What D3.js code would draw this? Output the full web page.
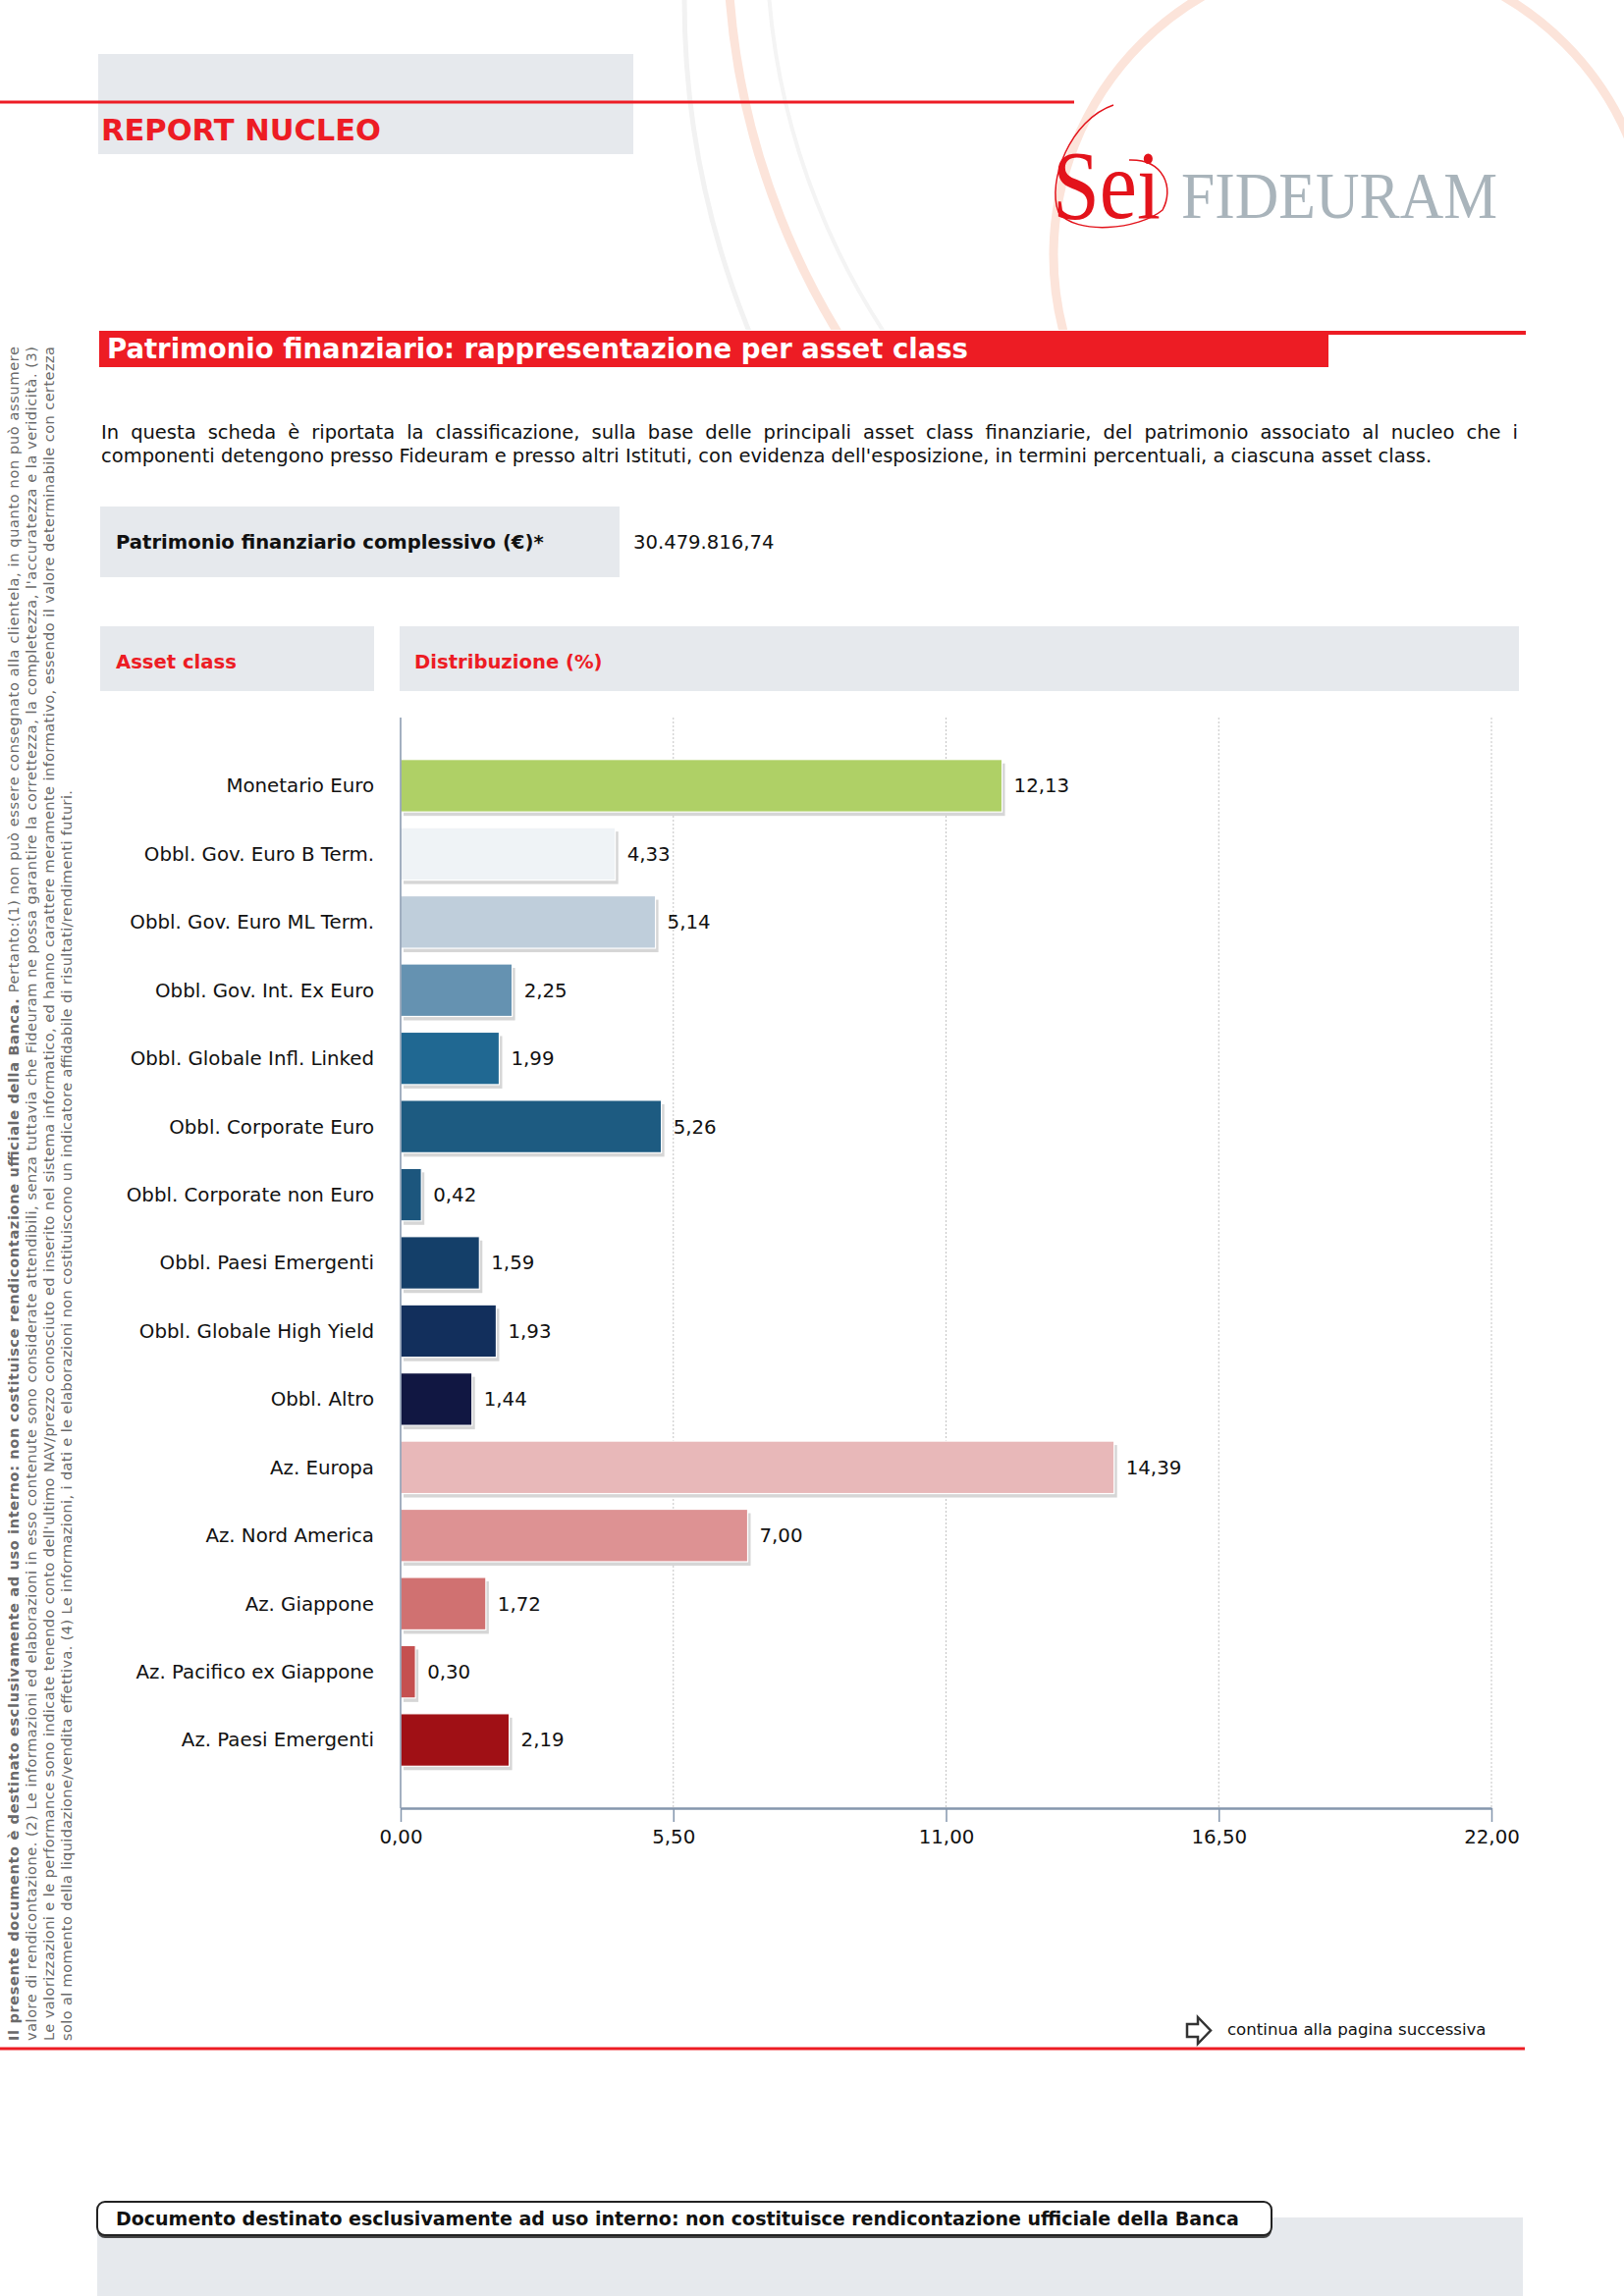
<!DOCTYPE html>
<html lang="it">
<head>
<meta charset="UTF-8">
<title>Patrimonio finanziario: rappresentazione per asset class</title>
<script src="https://d3js.org/d3.v7.min.js"></script>
<style>
    body { margin: 0; background: #fff; }
    svg { display: block; font-family: "DejaVu Sans", Verdana, sans-serif; }
</style>
</head>
<body>
<svg id="page" width="1654" height="2339"></svg>
<script>
    // dati
    const categories = [
        "Monetario Euro", "Obbl. Gov. Euro B Term.", "Obbl. Gov. Euro ML Term.",
        "Obbl. Gov. Int. Ex Euro", "Obbl. Globale Infl. Linked", "Obbl. Corporate Euro",
        "Obbl. Corporate non Euro", "Obbl. Paesi Emergenti", "Obbl. Globale High Yield",
        "Obbl. Altro", "Az. Europa", "Az. Nord America", "Az. Giappone",
        "Az. Pacifico ex Giappone", "Az. Paesi Emergenti"
    ];
    const values = [12.13, 4.33, 5.14, 2.25, 1.99, 5.26, 0.42, 1.59, 1.93, 1.44, 14.39, 7.00, 1.72, 0.30, 2.19];
    const barColors = [
        "#afd066", "#eff3f6", "#bfcedb", "#6592b1", "#206892", "#1d5b81", "#1c567d",
        "#143f69", "#122f5c", "#111742", "#e8b8b9", "#dd9293", "#d07171", "#c55050", "#a01015"
    ];
    const xTicks = [0, 5.5, 11, 16.5, 22];
    const totalValue = 30479816.74;

    const noteLines = [
        [["Il presente documento è destinato esclusivamente ad uso interno: non costituisce rendicontazione ufficiale della Banca.", true],
         [" Pertanto:(1) non può essere consegnato alla clientela, in quanto non può assumere", false]],
        [["valore di rendicontazione. (2) Le informazioni ed elaborazioni in esso contenute sono considerate attendibili, senza tuttavia che Fideuram ne possa garantire la correttezza, la completezza, l'accuratezza e la veridicità. (3)", false]],
        [["Le valorizzazioni e le performance sono indicate tenendo conto dell'ultimo NAV/prezzo conosciuto ed inserito nel sistema informatico, ed hanno carattere meramente informativo, essendo il valore determinabile con certezza", false]],
        [["solo al momento della liquidazione/vendita effettiva. (4) Le informazioni, i dati e le elaborazioni non costituiscono un indicatore affidabile di risultati/rendimenti futuri.", false]]
    ];
    const introLines = [
        "In questa scheda è riportata la classificazione, sulla base delle principali asset class finanziarie, del patrimonio associato al nucleo che i",
        "componenti detengono presso Fideuram e presso altri Istituti, con evidenza dell'esposizione, in termini percentuali, a ciascuna asset class."
    ];

    const RED = "#ed1c24";
    const GREY = "#e6e9ed";
    const FS = 19.8; // dimensione testo del grafico

    const locale = d3.formatLocale({ decimal: ",", thousands: ".", grouping: [3], currency: ["€", ""] });
    const fmt2 = locale.format(".2f");
    const fmtTotal = locale.format(",.2f");

    const svg = d3.select("#page");

    // decorazioni di sfondo (archi)
    svg.append("clipPath").attr("id", "topClip")
        .append("rect").attr("x", 0).attr("y", 0).attr("width", 1654).attr("height", 336);
    const deco = svg.append("g").attr("clip-path", "url(#topClip)").attr("fill", "none");
    deco.append("circle").attr("cx", 1594).attr("cy", 0).attr("r", 897).attr("stroke", "#f2f2f2").attr("stroke-width", 5);
    deco.append("circle").attr("cx", 1508).attr("cy", -61).attr("r", 767).attr("stroke", "#fce4da").attr("stroke-width", 9);
    deco.append("circle").attr("cx", 1508).attr("cy", -61).attr("r", 727).attr("stroke", "#f4f4f4").attr("stroke-width", 4);
    deco.append("circle").attr("cx", 1378).attr("cy", 260).attr("r", 305).attr("stroke", "#fce4da").attr("stroke-width", 9);

    // intestazione
    svg.append("rect").attr("x", 100).attr("y", 55).attr("width", 545).attr("height", 102).attr("fill", GREY);
    svg.append("rect").attr("x", 0).attr("y", 102.5).attr("width", 1094).attr("height", 3).attr("fill", RED);
    svg.append("text").attr("x", 103).attr("y", 143)
        .attr("font-size", 30.5).attr("font-weight", "bold").attr("fill", RED).text("REPORT NUCLEO");

    // logo
    svg.append("text").attr("x", 1072).attr("y", 222)
        .attr("font-family", "Liberation Serif").attr("font-size", 100).attr("fill", "#e3131b")
        .attr("textLength", 110).attr("lengthAdjust", "spacingAndGlyphs").text("Sei");
    svg.append("path")
        .attr("d", "M1134,107 C1090,122 1066,185 1078,216 C1095,240 1160,234 1184,214 C1196,192 1186,162 1150,163")
        .attr("fill", "none").attr("stroke", "#e3131b").attr("stroke-width", 1.5);
    svg.append("text").attr("x", 1203).attr("y", 222)
        .attr("font-family", "Liberation Serif").attr("font-size", 68).attr("fill", "#a9b4bb")
        .attr("textLength", 322).attr("lengthAdjust", "spacingAndGlyphs").text("FIDEURAM");

    // titolo sezione
    svg.append("rect").attr("x", 101).attr("y", 337).attr("width", 1453).attr("height", 4).attr("fill", RED);
    svg.append("rect").attr("x", 101).attr("y", 337).attr("width", 1252).attr("height", 37).attr("fill", RED);
    svg.append("text").attr("x", 109).attr("y", 365)
        .attr("font-size", 27.5).attr("font-weight", "bold").attr("fill", "#fff")
        .text("Patrimonio finanziario: rappresentazione per asset class");

    // testo introduttivo (prima riga giustificata)
    const intro = svg.append("g").attr("font-size", 19.5).attr("fill", "#111");
    {
        const words = introLines[0].split(" ");
        const tmp = intro.append("text");
        const widths = words.map(w => { tmp.text(w); return tmp.node().getComputedTextLength(); });
        tmp.remove();
        const left = 103, right = 1546;
        const gap = (right - left - d3.sum(widths)) / (words.length - 1);
        let xp = left;
        words.forEach((w, i) => {
            intro.append("text").attr("x", xp).attr("y", 447).text(w);
            xp += widths[i] + gap;
        });
        intro.append("text").attr("x", left).attr("y", 471).text(introLines[1]);
    }

    // patrimonio complessivo
    svg.append("rect").attr("x", 102).attr("y", 516).attr("width", 529).attr("height", 72).attr("fill", GREY);
    svg.append("text").attr("x", 118).attr("y", 559).attr("font-size", 19.6).attr("font-weight", "bold")
        .attr("fill", "#111").text("Patrimonio finanziario complessivo (€)*");
    svg.append("text").attr("x", 645).attr("y", 559).attr("font-size", 19.6)
        .attr("fill", "#111").text(fmtTotal(totalValue));

    // intestazioni colonne
    svg.append("rect").attr("x", 102).attr("y", 638).attr("width", 279).attr("height", 66).attr("fill", GREY);
    svg.append("rect").attr("x", 407).attr("y", 638).attr("width", 1140).attr("height", 66).attr("fill", GREY);
    svg.append("text").attr("x", 118).attr("y", 681).attr("font-size", 19.6).attr("font-weight", "bold")
        .attr("fill", RED).text("Asset class");
    svg.append("text").attr("x", 422).attr("y", 681).attr("font-size", 19.6).attr("font-weight", "bold")
        .attr("fill", RED).text("Distribuzione (%)");

    // grafico a barre
    const plotTop = 731, plotBottom = 1842;
    const x = d3.scaleLinear().domain([0, 22]).range([408, 1519]);
    const y = d3.scaleBand().domain(categories).range([plotTop, plotBottom]).paddingInner(0.23).paddingOuter(0.615);

    const chart = svg.append("g");

    chart.selectAll(".grid").data(xTicks.slice(1)).enter().append("line")
        .attr("class", "grid")
        .attr("x1", d => x(d)).attr("x2", d => x(d))
        .attr("y1", plotTop).attr("y2", plotBottom)
        .attr("stroke", "#c4c4c4").attr("stroke-width", 1).attr("stroke-dasharray", "2,2");

    const rows = chart.selectAll(".row").data(categories).enter().append("g").attr("class", "row");

    rows.append("rect")
        .attr("x", x(0) + 3).attr("y", d => y(d) + 4)
        .attr("width", (d, i) => x(values[i]) - x(0)).attr("height", y.bandwidth())
        .attr("fill", "#d6d6d6");
    rows.append("rect")
        .attr("x", x(0)).attr("y", d => y(d))
        .attr("width", (d, i) => x(values[i]) - x(0)).attr("height", y.bandwidth())
        .attr("fill", (d, i) => barColors[i])
        .attr("stroke", "#ffffff").attr("stroke-width", 1.2);

    rows.append("text")
        .attr("x", (d, i) => x(values[i]) + 12)
        .attr("y", d => y(d) + y.bandwidth() / 2)
        .attr("dy", "0.35em").attr("font-size", FS).attr("fill", "#111")
        .text((d, i) => fmt2(values[i]));

    rows.append("text")
        .attr("x", 381)
        .attr("y", d => y(d) + y.bandwidth() / 2)
        .attr("dy", "0.35em").attr("text-anchor", "end").attr("font-size", FS).attr("fill", "#111")
        .text(d => d);

    chart.append("line")
        .attr("x1", x(0)).attr("x2", x(0)).attr("y1", plotTop).attr("y2", plotBottom)
        .attr("stroke", "#8496ad").attr("stroke-width", 1.5);

    const axis = chart.append("g").attr("transform", `translate(0,${plotBottom})`)
        .call(d3.axisBottom(x).tickValues(xTicks).tickSize(14).tickSizeOuter(0).tickPadding(8).tickFormat(fmt2));
    axis.select(".domain").attr("stroke", "#8496ad").attr("stroke-width", 2.5);
    axis.selectAll(".tick line").attr("stroke", "#8496ad").attr("stroke-width", 1.5);
    axis.selectAll(".tick text").attr("font-size", FS).attr("fill", "#111")
        .attr("font-family", "DejaVu Sans, Verdana, sans-serif");

    // note verticali a sinistra
    const notes = svg.append("g").attr("font-size", 14.5).attr("fill", "#6a6a6a");
    const noteLengths = [1726, 1726, 1726, 1274];
    noteLines.forEach((parts, i) => {
        const bx = 19 + i * 18;
        const t = notes.append("text")
            .attr("transform", `translate(${bx},2079) rotate(-90)`)
            .attr("x", 0).attr("y", 0)
            .attr("textLength", noteLengths[i]).attr("lengthAdjust", "spacing");
        parts.forEach(([s, bold]) => {
            t.append("tspan").attr("font-weight", bold ? "bold" : "normal").text(s);
        });
    });

    // piede di pagina
    svg.append("path")
        .attr("d", "M1209,2062 L1220,2062 L1220,2055 L1233,2068.5 L1220,2082 L1220,2075 L1209,2075 Z")
        .attr("fill", "#fff").attr("stroke", "#333").attr("stroke-width", 2.5).attr("stroke-linejoin", "miter");
    svg.append("text").attr("x", 1250).attr("y", 2073).attr("font-size", 16.6).attr("fill", "#111")
        .text("continua alla pagina successiva");
    svg.append("rect").attr("x", 0).attr("y", 2085.5).attr("width", 1553).attr("height", 3).attr("fill", RED);

    svg.append("rect").attr("x", 99).attr("y", 2259).attr("width", 1452).attr("height", 80).attr("fill", GREY);
    svg.append("rect").attr("x", 99).attr("y", 2246).attr("width", 1196).attr("height", 34).attr("rx", 8)
        .attr("fill", "#444");
    svg.append("rect").attr("x", 99).attr("y", 2243).attr("width", 1196).attr("height", 34).attr("rx", 8)
        .attr("fill", "#fff").attr("stroke", "#222").attr("stroke-width", 2);
    svg.append("text").attr("x", 118).attr("y", 2267).attr("font-size", 19).attr("font-weight", "bold")
        .attr("fill", "#111")
        .text("Documento destinato esclusivamente ad uso interno: non costituisce rendicontazione ufficiale della Banca");
</script>
</body>
</html>
